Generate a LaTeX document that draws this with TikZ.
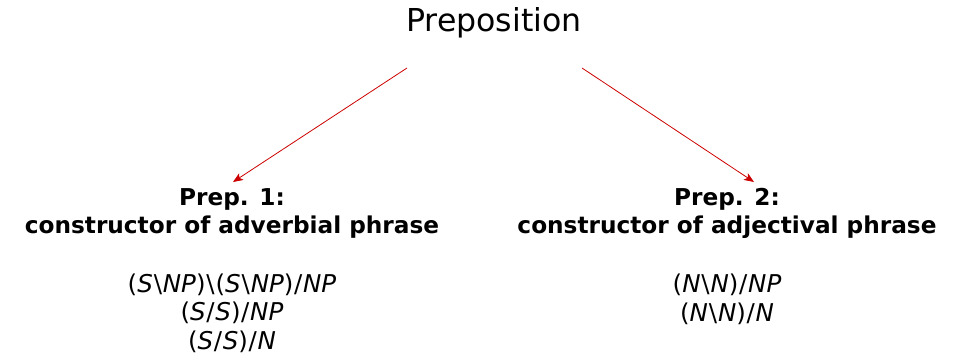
\documentclass[tikz,border=0pt]{standalone}
\usepackage{fontspec}
\setmainfont{DejaVu Sans}
\usetikzlibrary{arrows.meta}
% category notation: italic atoms, upright brackets and slashes
\newcommand\at[1]{\textit{#1}}
\newcommand\bsl{\hspace{0.9bp}\textbackslash\hspace{0.9bp}}
\newcommand\fsl{\hspace{0.7bp}/\hspace{0.7bp}}
\tikzset{
  title/.style={font=\fontsize{31.7}{36}\selectfont, inner sep=0pt, anchor=base},
  head/.style={font=\fontsize{23.3}{28}\bfseries\selectfont, align=center, inner sep=0pt, anchor=base},
  cats/.style={font=\fontsize{24.6}{28.5}\selectfont, align=center, inner sep=0pt, anchor=base},
  link/.style={draw={rgb,255:red,204;green,0;blue,0}, line width=0.8bp,
    -{Stealth[length=10bp,width=8bp,inset=2.5bp]}},
}
\begin{document}
\begin{tikzpicture}[x=1bp,y=-1bp]
\useasboundingbox (0,0) rectangle (957,353);
\node[title] (prep) at (494,31) {Preposition};
% multi-line nodes are placed by the baseline of their last line
\node[head] (p1) at (232,233) {Prep. 1:\\constructor of adverbial phrase};
\node[head] (p2) at (727,233) {Prep. 2:\\constructor of adjectival phrase};
\node[cats] (c1) at (232,349) {(\at{S}\bsl\at{NP})\bsl(\at{S}\bsl\at{NP})\fsl\at{NP}\\(\at{S}\fsl\at{S})\fsl\at{NP}\\(\at{S}\fsl\at{S})\fsl\at{N}};
\node[cats] (c2) at (727,321) {(\at{N}\bsl\at{N})\fsl\at{NP}\\(\at{N}\bsl\at{N})\fsl\at{N}};
\coordinate (s1) at (407,68);
\coordinate (s2) at (582,68);
\coordinate (e1) at (233,182);
\coordinate (e2) at (754,182);
\draw[link] (s1) -- (e1);
\draw[link] (s2) -- (e2);
\end{tikzpicture}
\end{document}
